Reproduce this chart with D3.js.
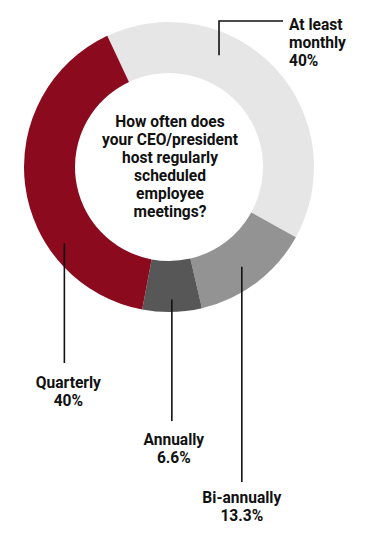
<!DOCTYPE html>
<html>
<head>
<meta charset="utf-8">
<script src="https://cdn.jsdelivr.net/npm/d3@7"></script>
<style>
  html, body { margin: 0; padding: 0; background: #fff; }
  svg text { font-family: Roboto, "DejaVu Sans Condensed", sans-serif; font-weight: bold; fill: #111; }
</style>
</head>
<body>
<svg id="chart" width="367" height="547"></svg>
<script>
const categories = ["At least monthly", "Bi-annually", "Annually", "Quarterly"];
const values = [40, 13.3, 6.6, 40];
const valueLabels = ["40%", "13.3%", "6.6%", "40%"];
const colors = ["#e6e6e6", "#939393", "#575757", "#8b0a1e"];
const centerLines = ["How often does", "your CEO/president", "host regularly", "scheduled", "employee", "meetings?"];

const svg = d3.select("#chart");
const cx = 169, cy = 167, rOuter = 145, rInner = 94;
const g = svg.append("g").attr("transform", `translate(${cx},${cy})`);

const start = -25.2 * Math.PI / 180;
const pie = d3.pie().sort(null).value(d => d).startAngle(start).endAngle(start + 2 * Math.PI);
const arcs = pie(values);
const arc = d3.arc().innerRadius(rInner).outerRadius(rOuter);

g.selectAll("path.slice").data(arcs).enter().append("path")
  .attr("class", "slice")
  .attr("d", arc)
  .attr("fill", (d, i) => colors[i]);

// measure to condense the font to match the narrow typeface
const probe = svg.append("text").style("font-size", "16px").text("your CEO/president");
const sx = 136 / probe.node().getComputedTextLength();
probe.remove();

function label(x, y, lines, anchor) {
  const t = g.append("text")
    .attr("transform", `translate(${x},${y}) scale(${sx},1)`)
    .attr("text-anchor", anchor).style("font-size", "16px");
  lines.forEach((l, i) => t.append("tspan").attr("x", 0).attr("y", i * 18).text(l));
  return t;
}

// center question
label(1, -40, centerLines, "middle");

const midR = (rInner + rOuter) / 2;
function pt(a, r) { return [Math.sin(a) * r, -Math.cos(a) * r]; }
const lineStyle = sel => sel.attr("fill", "none").attr("stroke", "#111").attr("stroke-width", 1.6);

// At least monthly: up then right
{
  const a = arcs[0];
  const ang = a.startAngle + 0.342 * (a.endAngle - a.startAngle);
  const p = pt(ang, midR + 3);
  const topY = -146;
  const rightX = 114;
  g.append("path").call(lineStyle)
    .attr("d", `M${p[0]},${p[1]} V${topY} H${rightX}`);
  label(rightX + 6, -137, ["At least", "monthly", valueLabels[0]], "start");
}

// bottom labels: vertical lines down
const bottom = [
  { idx: 1, frac: 0.52, r: midR + 4, endY: 315, labelY: 336, dx: 0, lines: ["Bi-annually", valueLabels[1]] },
  { idx: 2, frac: 0.5, r: midR + 13, endY: 254, labelY: 278, dx: 2, lines: ["Annually", valueLabels[2]] },
  { idx: 3, frac: 0.30, r: midR + 10, endY: 196, labelY: 221, dx: 4, lines: ["Quarterly", valueLabels[3]] }
];
bottom.forEach(b => {
  const a = arcs[b.idx];
  const ang = a.startAngle + b.frac * (a.endAngle - a.startAngle);
  const p = pt(ang, b.r);
  g.append("path").call(lineStyle).attr("d", `M${p[0]},${p[1]} V${b.endY}`);
  label(p[0] + b.dx, b.labelY, b.lines, "middle");
});
</script>
</body>
</html>
